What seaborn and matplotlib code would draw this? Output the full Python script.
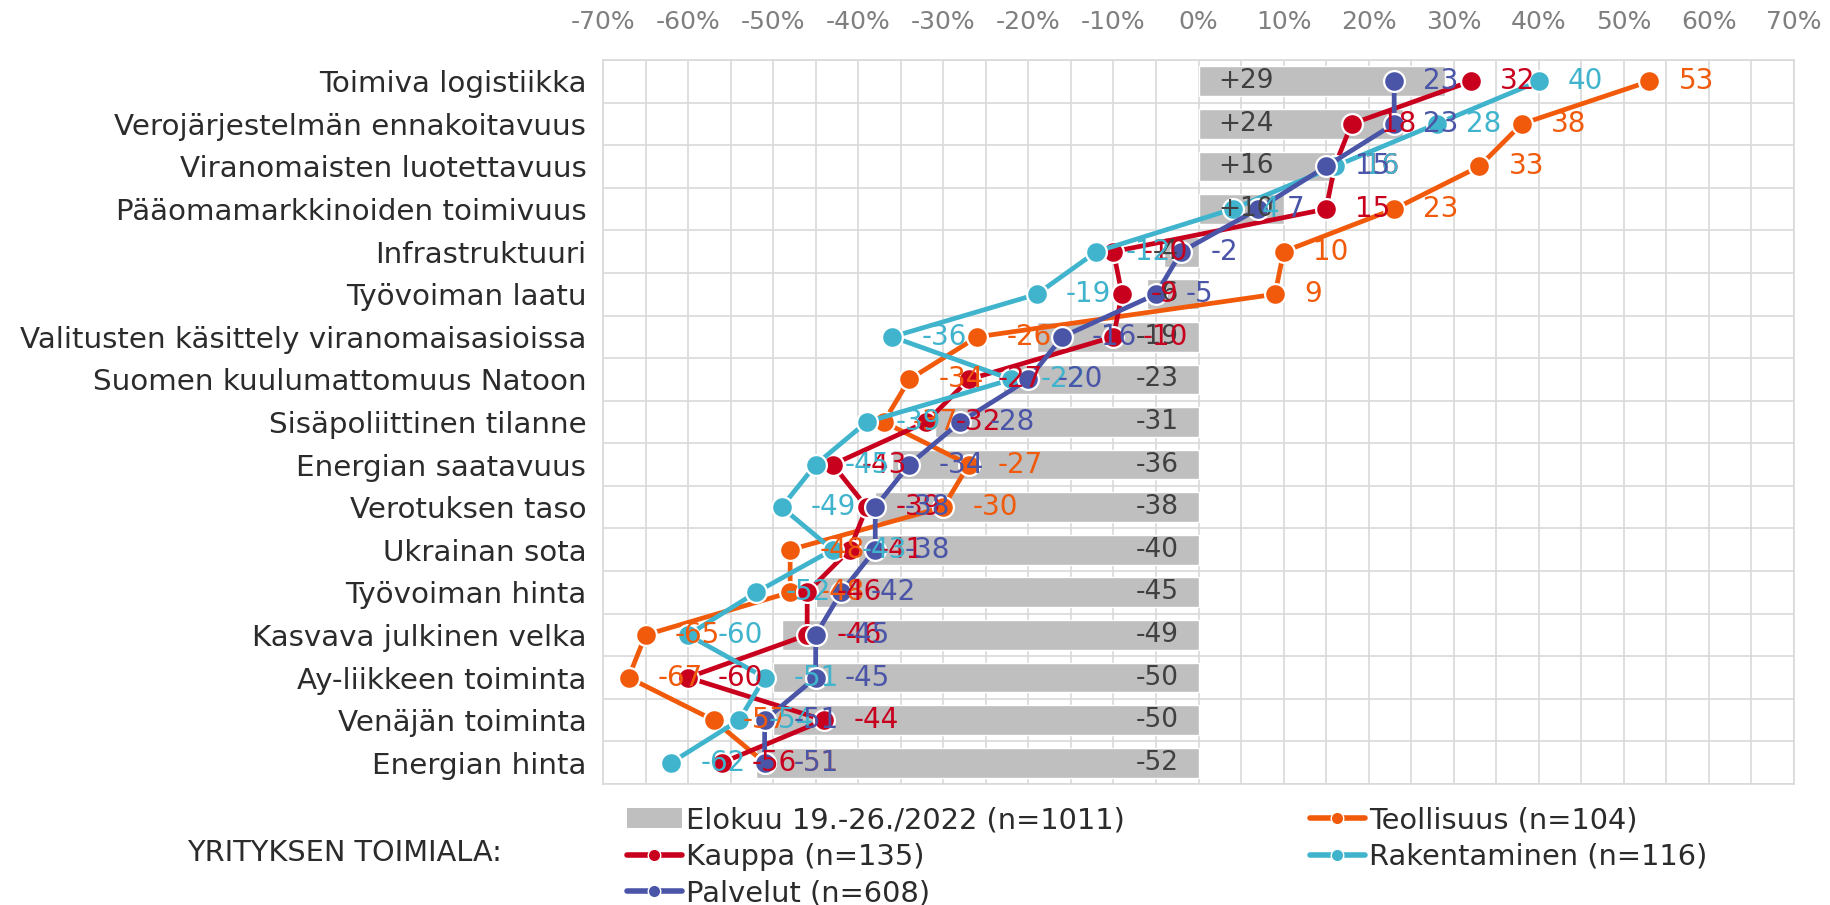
import numpy as np
import pandas as pd
import matplotlib
matplotlib.use("Agg")
import matplotlib.pyplot as plt
from matplotlib.lines import Line2D
from matplotlib.patches import Patch
from matplotlib.ticker import MultipleLocator, FixedLocator
import seaborn as sns

categories = [
    "Toimiva logistiikka",
    "Verojärjestelmän ennakoitavuus",
    "Viranomaisten luotettavuus",
    "Pääomamarkkinoiden toimivuus",
    "Infrastruktuuri",
    "Työvoiman laatu",
    "Valitusten käsittely viranomaisasioissa",
    "Suomen kuulumattomuus Natoon",
    "Sisäpoliittinen tilanne",
    "Energian saatavuus",
    "Verotuksen taso",
    "Ukrainan sota",
    "Työvoiman hinta",
    "Kasvava julkinen velka",
    "Ay-liikkeen toiminta",
    "Venäjän toiminta",
    "Energian hinta",
]
total_2022 = [29, 24, 16, 10, -4, -6, -19, -23, -31, -36, -38, -40, -45, -49, -50, -50, -52]
teollisuus = [53, 38, 33, 23, 10, 9, -26, -34, -37, -27, -30, -48, -48, -65, -67, -57, -51]
kauppa = [32, 18, 16, 15, -10, -9, -10, -27, -32, -43, -39, -41, -46, -46, -60, -44, -56]
rakentaminen = [40, 28, 16, 4, -12, -19, -36, -22, -39, -45, -49, -43, -52, -60, -51, -54, -62]
palvelut = [23, 23, 15, 7, -2, -5, -16, -20, -28, -34, -38, -38, -42, -45, -45, -51, -51]

bar_name = "Elokuu 19.-26./2022 (n=1011)"
series_names = ["Teollisuus (n=104)", "Kauppa (n=135)", "Rakentaminen (n=116)", "Palvelut (n=608)"]
series_values = [teollisuus, kauppa, rakentaminen, palvelut]
series_colors = ["#F05A0A", "#C8001E", "#41B4CD", "#4A55A8"]
x_ticks = list(range(-70, 71, 10))
group_title = "YRITYKSEN TOIMIALA:"

BAR_COLOR = "#BFBFBF"
GRID = "#D9D9D9"
TEXT = "#2B2B2B"
FONT = "DejaVu Sans"

sns.set_theme(style="white")
plt.rcParams["font.family"] = [FONT]

fig = plt.figure(figsize=(18.3, 9.05), dpi=100)
ax = fig.add_axes([603 / 1830, 1 - 784 / 905, (1794 - 603) / 1830, (784 - 60) / 905])

df = pd.DataFrame({"cat": categories, "val": total_2022})
sns.barplot(data=df, x="val", y="cat", orient="h", color=BAR_COLOR, saturation=1,
            width=0.7, ax=ax, zorder=2)

ypos = np.arange(len(categories))
for name, vals, col in zip(series_names, series_values, series_colors):
    sdf = pd.DataFrame({"x": vals, "y": ypos})
    sns.lineplot(data=sdf, x="x", y="y", sort=False, orient="y", estimator=None,
                 color=col, linewidth=3.4, marker="o", markersize=15,
                 markeredgecolor="white", markeredgewidth=1.6, ax=ax, zorder=3,
                 legend=False)

# bar labels (inside base)
for i, v in enumerate(total_2022):
    if v >= 0:
        ax.annotate(f"+{v}", (0, i), xytext=(14, 0), textcoords="offset points",
                    ha="left", va="center", fontsize=19, color="#404040", zorder=4)
    else:
        ax.annotate(f"{v}", (0, i), xytext=(-14, 0), textcoords="offset points",
                    ha="right", va="center", fontsize=19, color="#404040", zorder=4)

# series data labels
for vals, col in zip(series_values, series_colors):
    for i, v in enumerate(vals):
        ax.annotate(f"{v}", (v, i), xytext=(21, 0), textcoords="offset points",
                    ha="left", va="center", fontsize=20, color=col, zorder=5)

ax.set_xlim(-70, 70)
ax.set_ylim(len(categories) - 0.5, -0.5)
ax.xaxis.set_major_locator(FixedLocator(x_ticks))
ax.xaxis.set_minor_locator(MultipleLocator(5))
ax.set_xticklabels([f"{t}%" for t in x_ticks])
ax.yaxis.set_minor_locator(FixedLocator(np.arange(-0.5, len(categories), 1)))
ax.xaxis.tick_top()
ax.set_xlabel("")
ax.set_ylabel("")
ax.tick_params(axis="x", which="both", length=0, labelsize=18, labelcolor="#7F7F7F", pad=19)
ax.tick_params(axis="y", which="both", length=0, labelsize=21.2, labelcolor=TEXT, pad=12)
ax.grid(True, which="both", color=GRID, linewidth=1.2)
ax.grid(False, which="major", axis="y")
ax.set_axisbelow(True)
for s in ax.spines.values():
    s.set_color(GRID)
    s.set_linewidth(1.2)

# legend (row-major order as in the reference: 2 columns)
bar_handle = Patch(facecolor=BAR_COLOR, edgecolor="none")
line_handles = [Line2D([], [], color=c, linewidth=4, marker="o", markersize=9,
                       markeredgecolor="white", markeredgewidth=1)
                for c in series_colors]
leg_handles = [bar_handle, line_handles[1], line_handles[3], line_handles[0], line_handles[2]]
leg_labels = [bar_name, series_names[1], series_names[3], series_names[0], series_names[2]]
fig.legend(leg_handles, leg_labels, loc="upper left", bbox_to_anchor=(627 / 1830, 1 - 806 / 905),
           ncol=2, frameon=False, fontsize=20.8, handlelength=1.9, handletextpad=0.15,
           columnspacing=6.4, labelspacing=0.3, borderpad=0, borderaxespad=0,
           labelcolor=TEXT)

fig.text(187 / 1830, 1 - 853 / 905, group_title, ha="left", va="center",
         fontsize=20.7, color=TEXT)

fig.savefig("out.png", dpi=100)
